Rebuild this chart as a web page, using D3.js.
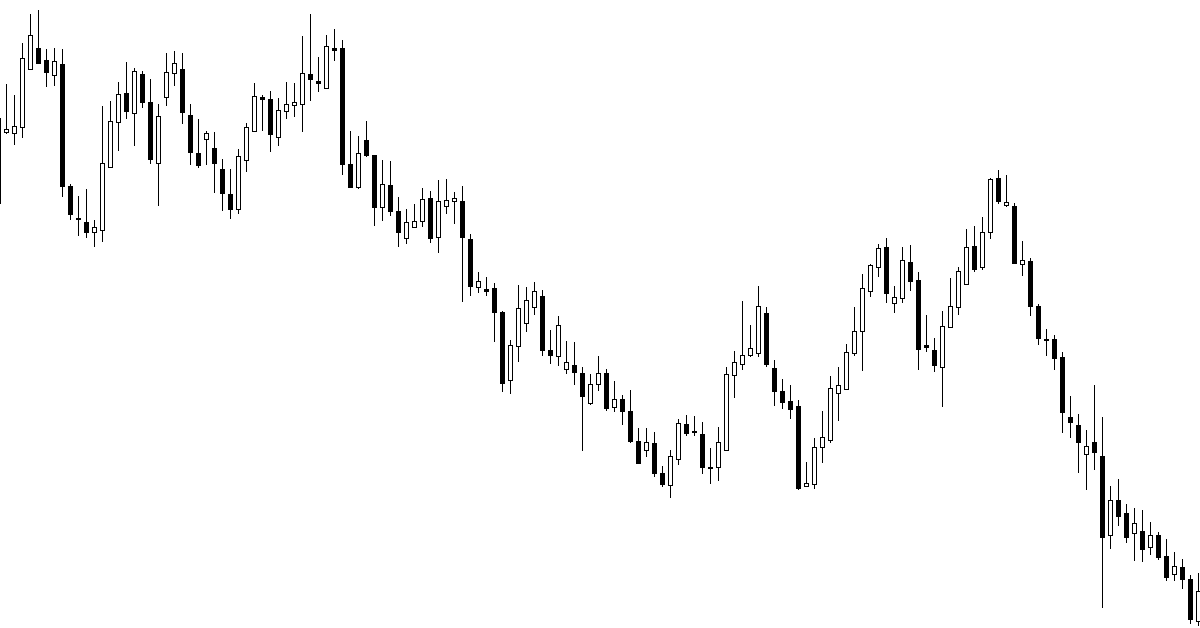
<!DOCTYPE html>
<html>
<head>
<meta charset="utf-8">
<script src="https://cdn.jsdelivr.net/npm/d3@7"></script>
<style>
  html, body { margin: 0; padding: 0; background: #ffffff; }
  svg { display: block; }
</style>
</head>
<body>
<svg id="chart" width="1200" height="628"></svg>
<script>
// Candle price values (index points), oldest first
const open = [797,868,867,873,931,952,940,925,936,814,782,778,768,770,833,878,907,887,926,898,837,903,927,931,885,847,861,852,831,806,791,840,869,903,901,863,889,895,896,926,919,912,952,952,836,813,860,845,793,815,789,762,773,779,802,763,794,799,799,761,713,711,712,688,620,654,677,693,704,650,644,631,635,627,597,616,627,593,601,589,559,550,557,527,515,541,576,569,566,533,533,550,625,636,645,647,687,632,609,599,594,514,516,553,560,607,611,647,669,709,733,753,697,702,738,720,655,650,633,673,693,716,754,733,768,822,795,794,736,739,694,661,661,643,583,575,546,558,544,465,500,487,467,469,453,465,444,426,433,421,379];
const high = [882,916,905,957,986,990,951,952,951,816,804,811,780,894,899,918,938,932,929,921,896,947,949,947,896,881,869,868,841,831,851,877,917,905,909,902,918,917,964,986,943,965,971,960,869,864,879,845,840,839,803,791,796,812,809,820,821,808,814,766,728,723,717,689,660,715,713,718,710,670,684,659,658,633,626,644,631,619,605,610,572,572,568,534,550,581,585,584,578,552,573,633,649,699,675,714,693,640,621,615,600,538,562,589,624,633,656,693,726,736,756,762,714,753,755,728,685,662,689,722,733,771,774,783,822,830,825,797,759,742,696,671,665,648,604,586,570,615,583,514,521,496,492,490,478,468,461,448,441,425,427];
const low = [797,866,855,862,931,937,913,914,803,780,764,762,753,758,832,849,881,854,892,836,794,894,914,876,835,832,835,807,789,781,786,828,868,869,848,854,881,883,868,899,908,912,939,825,812,811,843,774,779,784,753,756,772,773,757,747,786,776,698,704,707,704,658,608,606,638,668,685,644,636,634,626,615,549,595,609,589,588,575,557,536,543,523,513,502,535,564,564,526,516,519,549,602,630,643,643,633,594,591,581,510,513,511,537,557,579,611,644,629,703,723,697,687,697,709,630,648,628,593,672,685,716,728,730,761,796,793,736,724,684,655,644,630,567,562,527,510,530,392,451,474,457,439,438,445,440,419,419,411,376,374];
const close = [882,871,874,942,965,937,928,939,814,786,781,768,773,837,879,906,889,929,898,841,884,928,937,888,848,835,867,837,807,791,844,873,904,901,866,890,896,898,927,921,917,954,950,836,813,847,845,793,816,789,768,778,779,801,762,799,800,802,763,714,719,709,688,617,655,692,700,709,650,645,675,638,628,604,616,627,592,601,589,559,537,558,527,516,544,577,567,568,533,532,558,626,638,645,652,694,636,609,598,591,512,517,553,563,612,615,648,669,712,735,752,707,703,740,719,651,653,635,674,694,729,753,731,768,821,799,798,737,740,694,662,660,642,588,578,558,554,548,463,500,484,463,477,451,465,443,423,434,421,381,409];

const W = 1200, H = 628;
const n = open.length;
const candles = d3.range(n).map(i => ({ i, o: open[i], h: high[i], l: low[i], c: close[i] }));

const x = d3.scaleLinear().domain([0, n - 1]).range([-2, 1198]);
const y = d3.scaleLinear().domain([372, 1000]).range([H, 0]);

const svg = d3.select('#chart');
svg.append('rect').attr('width', W).attr('height', H).attr('fill', '#ffffff');

const g = svg.append('g').attr('shape-rendering', 'crispEdges');

const cs = g.selectAll('g.candle').data(candles).join('g').attr('class', 'candle');

cs.append('line')
  .attr('x1', d => Math.round(x(d.i)) + 0.5)
  .attr('x2', d => Math.round(x(d.i)) + 0.5)
  .attr('y1', d => Math.round(y(d.h)))
  .attr('y2', d => Math.round(y(d.l)))
  .attr('stroke', '#000')
  .attr('stroke-width', 1);

cs.append('rect')
  .attr('x', d => Math.round(x(d.i)) - 1.5)
  .attr('width', 4)
  .attr('y', d => Math.round(y(Math.max(d.o, d.c))) + 0.5)
  .attr('height', d => Math.max(1, Math.abs(Math.round(y(d.o)) - Math.round(y(d.c)))))
  .attr('fill', d => d.c >= d.o ? '#ffffff' : '#000000')
  .attr('stroke', '#000')
  .attr('stroke-width', 1);
</script>
</body>
</html>
